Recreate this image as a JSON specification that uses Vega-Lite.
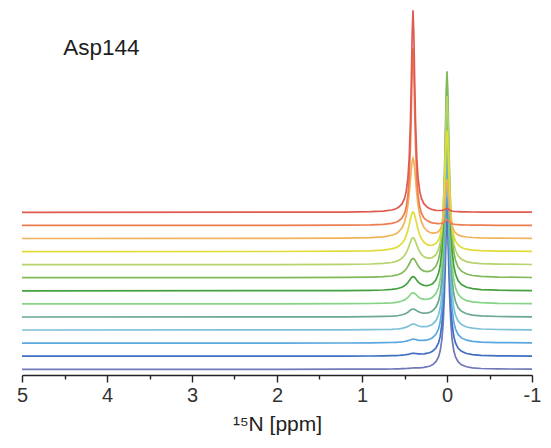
{
"$schema": "https://vega.github.io/schema/vega-lite/v6.json",
"width": 510, "height": 375,
"autosize": {"type": "none"},
"padding": {"left": 22, "top": 0, "right": 19, "bottom": 73},
"background": "white",
"config": {"view": {"stroke": null}},
"layer": [
{
"data": {"values": [
{"s":12,"x":5,"y":5.7},{"s":12,"x":2,"y":5.7},{"s":12,"x":1.2,"y":5.8},{"s":12,"x":0.9,"y":5.9},{"s":12,"x":0.75,"y":5.9},{"s":12,"x":0.65,"y":6.0},{"s":12,"x":0.6,"y":6.1},{"s":12,"x":0.57,"y":6.2},{"s":12,"x":0.53,"y":6.3},{"s":12,"x":0.5,"y":6.4},{"s":12,"x":0.48,"y":6.5},{"s":12,"x":0.46,"y":6.6},{"s":12,"x":0.445,"y":6.7},{"s":12,"x":0.43,"y":6.9},{"s":12,"x":0.42,"y":6.9},{"s":12,"x":0.41,"y":7.0},{"s":12,"x":0.4,"y":7.0},{"s":12,"x":0.39,"y":7.1},{"s":12,"x":0.38,"y":7.1},{"s":12,"x":0.37,"y":7.1},{"s":12,"x":0.355,"y":7.1},{"s":12,"x":0.34,"y":7.1},{"s":12,"x":0.32,"y":7.2},{"s":12,"x":0.3,"y":7.3},{"s":12,"x":0.27,"y":7.6},{"s":12,"x":0.23,"y":8.3},{"s":12,"x":0.2,"y":9.0},{"s":12,"x":0.17,"y":10.2},{"s":12,"x":0.13,"y":13.3},{"s":12,"x":0.1,"y":18.1},{"s":12,"x":0.08,"y":24.2},{"s":12,"x":0.06,"y":35.7},{"s":12,"x":0.045,"y":51.9},{"s":12,"x":0.03,"y":80.7},{"s":12,"x":0.02,"y":109.6},{"s":12,"x":0.01,"y":140.7},{"s":12,"x":0,"y":155.7},{"s":12,"x":-0.01,"y":140.7},{"s":12,"x":-0.02,"y":109.6},{"s":12,"x":-0.03,"y":80.7},{"s":12,"x":-0.045,"y":51.9},{"s":12,"x":-0.06,"y":35.7},{"s":12,"x":-0.08,"y":24.2},{"s":12,"x":-0.1,"y":18.1},{"s":12,"x":-0.13,"y":13.3},{"s":12,"x":-0.17,"y":10.2},{"s":12,"x":-0.23,"y":8.2},{"s":12,"x":-0.3,"y":7.2},{"s":12,"x":-0.4,"y":6.5},{"s":12,"x":-0.6,"y":6.1},{"s":12,"x":-1,"y":5.8},
{"s":11,"x":5,"y":18.8},{"s":11,"x":2,"y":18.8},{"s":11,"x":1.2,"y":18.9},{"s":11,"x":0.9,"y":19.0},{"s":11,"x":0.75,"y":19.1},{"s":11,"x":0.65,"y":19.3},{"s":11,"x":0.6,"y":19.4},{"s":11,"x":0.57,"y":19.5},{"s":11,"x":0.53,"y":19.8},{"s":11,"x":0.5,"y":20.0},{"s":11,"x":0.48,"y":20.3},{"s":11,"x":0.46,"y":20.6},{"s":11,"x":0.445,"y":20.9},{"s":11,"x":0.43,"y":21.3},{"s":11,"x":0.42,"y":21.5},{"s":11,"x":0.41,"y":21.6},{"s":11,"x":0.4,"y":21.7},{"s":11,"x":0.39,"y":21.7},{"s":11,"x":0.38,"y":21.6},{"s":11,"x":0.37,"y":21.5},{"s":11,"x":0.355,"y":21.4},{"s":11,"x":0.34,"y":21.2},{"s":11,"x":0.32,"y":21.1},{"s":11,"x":0.3,"y":21.0},{"s":11,"x":0.27,"y":21.2},{"s":11,"x":0.23,"y":21.8},{"s":11,"x":0.2,"y":22.5},{"s":11,"x":0.17,"y":23.8},{"s":11,"x":0.13,"y":27.0},{"s":11,"x":0.1,"y":32.1},{"s":11,"x":0.08,"y":38.6},{"s":11,"x":0.06,"y":50.9},{"s":11,"x":0.045,"y":68.1},{"s":11,"x":0.03,"y":98.9},{"s":11,"x":0.02,"y":129.6},{"s":11,"x":0.01,"y":162.9},{"s":11,"x":0,"y":178.9},{"s":11,"x":-0.01,"y":162.9},{"s":11,"x":-0.02,"y":129.6},{"s":11,"x":-0.03,"y":98.8},{"s":11,"x":-0.045,"y":68.1},{"s":11,"x":-0.06,"y":50.9},{"s":11,"x":-0.08,"y":38.6},{"s":11,"x":-0.1,"y":32.1},{"s":11,"x":-0.13,"y":26.9},{"s":11,"x":-0.17,"y":23.7},{"s":11,"x":-0.23,"y":21.5},{"s":11,"x":-0.3,"y":20.4},{"s":11,"x":-0.4,"y":19.7},{"s":11,"x":-0.6,"y":19.2},{"s":11,"x":-1,"y":18.9},
{"s":10,"x":5,"y":31.9},{"s":10,"x":2,"y":31.9},{"s":10,"x":1.2,"y":32.0},{"s":10,"x":0.9,"y":32.2},{"s":10,"x":0.75,"y":32.3},{"s":10,"x":0.65,"y":32.5},{"s":10,"x":0.6,"y":32.7},{"s":10,"x":0.57,"y":32.8},{"s":10,"x":0.53,"y":33.1},{"s":10,"x":0.5,"y":33.5},{"s":10,"x":0.48,"y":33.9},{"s":10,"x":0.46,"y":34.3},{"s":10,"x":0.445,"y":34.8},{"s":10,"x":0.43,"y":35.3},{"s":10,"x":0.42,"y":35.5},{"s":10,"x":0.41,"y":35.7},{"s":10,"x":0.4,"y":35.9},{"s":10,"x":0.39,"y":35.8},{"s":10,"x":0.38,"y":35.7},{"s":10,"x":0.37,"y":35.5},{"s":10,"x":0.355,"y":35.2},{"s":10,"x":0.34,"y":34.9},{"s":10,"x":0.32,"y":34.7},{"s":10,"x":0.3,"y":34.6},{"s":10,"x":0.27,"y":34.6},{"s":10,"x":0.23,"y":35.2},{"s":10,"x":0.2,"y":36.0},{"s":10,"x":0.17,"y":37.3},{"s":10,"x":0.13,"y":40.7},{"s":10,"x":0.1,"y":46.1},{"s":10,"x":0.08,"y":53.0},{"s":10,"x":0.06,"y":66.0},{"s":10,"x":0.045,"y":84.3},{"s":10,"x":0.03,"y":117.0},{"s":10,"x":0.02,"y":149.7},{"s":10,"x":0.01,"y":185.0},{"s":10,"x":0,"y":202.0},{"s":10,"x":-0.01,"y":185.0},{"s":10,"x":-0.02,"y":149.7},{"s":10,"x":-0.03,"y":117.0},{"s":10,"x":-0.045,"y":84.3},{"s":10,"x":-0.06,"y":66.0},{"s":10,"x":-0.08,"y":52.9},{"s":10,"x":-0.1,"y":46.0},{"s":10,"x":-0.13,"y":40.6},{"s":10,"x":-0.17,"y":37.1},{"s":10,"x":-0.23,"y":34.8},{"s":10,"x":-0.3,"y":33.6},{"s":10,"x":-0.4,"y":32.9},{"s":10,"x":-0.6,"y":32.4},{"s":10,"x":-1,"y":32.1},
{"s":9,"x":5,"y":45.0},{"s":9,"x":2,"y":45.1},{"s":9,"x":1.2,"y":45.2},{"s":9,"x":0.9,"y":45.3},{"s":9,"x":0.75,"y":45.5},{"s":9,"x":0.65,"y":45.7},{"s":9,"x":0.6,"y":46.0},{"s":9,"x":0.57,"y":46.2},{"s":9,"x":0.53,"y":46.7},{"s":9,"x":0.5,"y":47.3},{"s":9,"x":0.48,"y":47.9},{"s":9,"x":0.46,"y":48.6},{"s":9,"x":0.445,"y":49.3},{"s":9,"x":0.43,"y":50.1},{"s":9,"x":0.42,"y":50.5},{"s":9,"x":0.41,"y":50.8},{"s":9,"x":0.4,"y":51.0},{"s":9,"x":0.39,"y":51.0},{"s":9,"x":0.38,"y":50.7},{"s":9,"x":0.37,"y":50.4},{"s":9,"x":0.355,"y":49.8},{"s":9,"x":0.34,"y":49.3},{"s":9,"x":0.32,"y":48.7},{"s":9,"x":0.3,"y":48.4},{"s":9,"x":0.27,"y":48.3},{"s":9,"x":0.23,"y":48.7},{"s":9,"x":0.2,"y":49.5},{"s":9,"x":0.17,"y":50.8},{"s":9,"x":0.13,"y":54.3},{"s":9,"x":0.1,"y":60.0},{"s":9,"x":0.08,"y":67.2},{"s":9,"x":0.06,"y":80.8},{"s":9,"x":0.045,"y":100.0},{"s":9,"x":0.03,"y":134.2},{"s":9,"x":0.02,"y":168.4},{"s":9,"x":0.01,"y":205.4},{"s":9,"x":0,"y":223.2},{"s":9,"x":-0.01,"y":205.3},{"s":9,"x":-0.02,"y":168.4},{"s":9,"x":-0.03,"y":134.1},{"s":9,"x":-0.045,"y":99.9},{"s":9,"x":-0.06,"y":80.7},{"s":9,"x":-0.08,"y":67.1},{"s":9,"x":-0.1,"y":59.8},{"s":9,"x":-0.13,"y":54.1},{"s":9,"x":-0.17,"y":50.5},{"s":9,"x":-0.23,"y":48.0},{"s":9,"x":-0.3,"y":46.8},{"s":9,"x":-0.4,"y":46.0},{"s":9,"x":-0.6,"y":45.5},{"s":9,"x":-1,"y":45.2},
{"s":8,"x":5,"y":58.0},{"s":8,"x":2,"y":58.1},{"s":8,"x":1.2,"y":58.2},{"s":8,"x":0.9,"y":58.3},{"s":8,"x":0.75,"y":58.6},{"s":8,"x":0.65,"y":58.9},{"s":8,"x":0.6,"y":59.2},{"s":8,"x":0.57,"y":59.5},{"s":8,"x":0.53,"y":60.2},{"s":8,"x":0.5,"y":61.0},{"s":8,"x":0.48,"y":61.8},{"s":8,"x":0.46,"y":62.8},{"s":8,"x":0.445,"y":63.8},{"s":8,"x":0.43,"y":64.8},{"s":8,"x":0.42,"y":65.4},{"s":8,"x":0.41,"y":65.8},{"s":8,"x":0.4,"y":66.0},{"s":8,"x":0.39,"y":66.0},{"s":8,"x":0.38,"y":65.6},{"s":8,"x":0.37,"y":65.1},{"s":8,"x":0.355,"y":64.3},{"s":8,"x":0.34,"y":63.5},{"s":8,"x":0.32,"y":62.7},{"s":8,"x":0.3,"y":62.1},{"s":8,"x":0.27,"y":61.8},{"s":8,"x":0.23,"y":62.1},{"s":8,"x":0.2,"y":62.8},{"s":8,"x":0.17,"y":64.2},{"s":8,"x":0.13,"y":67.8},{"s":8,"x":0.1,"y":73.6},{"s":8,"x":0.08,"y":81.1},{"s":8,"x":0.06,"y":95.3},{"s":8,"x":0.045,"y":115.2},{"s":8,"x":0.03,"y":150.7},{"s":8,"x":0.02,"y":186.3},{"s":8,"x":0.01,"y":224.7},{"s":8,"x":0,"y":243.2},{"s":8,"x":-0.01,"y":224.7},{"s":8,"x":-0.02,"y":186.3},{"s":8,"x":-0.03,"y":150.7},{"s":8,"x":-0.045,"y":115.1},{"s":8,"x":-0.06,"y":95.2},{"s":8,"x":-0.08,"y":81.0},{"s":8,"x":-0.1,"y":73.4},{"s":8,"x":-0.13,"y":67.5},{"s":8,"x":-0.17,"y":63.7},{"s":8,"x":-0.23,"y":61.2},{"s":8,"x":-0.3,"y":59.9},{"s":8,"x":-0.4,"y":59.1},{"s":8,"x":-0.6,"y":58.5},{"s":8,"x":-1,"y":58.2},
{"s":7,"x":5,"y":71.1},{"s":7,"x":2,"y":71.2},{"s":7,"x":1.2,"y":71.3},{"s":7,"x":0.9,"y":71.5},{"s":7,"x":0.75,"y":71.8},{"s":7,"x":0.65,"y":72.2},{"s":7,"x":0.6,"y":72.7},{"s":7,"x":0.57,"y":73.1},{"s":7,"x":0.53,"y":74.0},{"s":7,"x":0.5,"y":75.1},{"s":7,"x":0.48,"y":76.2},{"s":7,"x":0.46,"y":77.7},{"s":7,"x":0.445,"y":79.0},{"s":7,"x":0.43,"y":80.5},{"s":7,"x":0.42,"y":81.3},{"s":7,"x":0.41,"y":81.9},{"s":7,"x":0.4,"y":82.2},{"s":7,"x":0.39,"y":82.0},{"s":7,"x":0.38,"y":81.5},{"s":7,"x":0.37,"y":80.8},{"s":7,"x":0.355,"y":79.5},{"s":7,"x":0.34,"y":78.4},{"s":7,"x":0.32,"y":77.1},{"s":7,"x":0.3,"y":76.3},{"s":7,"x":0.27,"y":75.7},{"s":7,"x":0.23,"y":75.8},{"s":7,"x":0.2,"y":76.4},{"s":7,"x":0.17,"y":77.8},{"s":7,"x":0.13,"y":81.5},{"s":7,"x":0.1,"y":87.5},{"s":7,"x":0.08,"y":95.2},{"s":7,"x":0.06,"y":109.9},{"s":7,"x":0.045,"y":130.6},{"s":7,"x":0.03,"y":167.5},{"s":7,"x":0.02,"y":204.4},{"s":7,"x":0.01,"y":244.2},{"s":7,"x":0,"y":263.4},{"s":7,"x":-0.01,"y":244.2},{"s":7,"x":-0.02,"y":204.3},{"s":7,"x":-0.03,"y":167.4},{"s":7,"x":-0.045,"y":130.4},{"s":7,"x":-0.06,"y":109.7},{"s":7,"x":-0.08,"y":95.0},{"s":7,"x":-0.1,"y":87.2},{"s":7,"x":-0.13,"y":81.0},{"s":7,"x":-0.17,"y":77.1},{"s":7,"x":-0.23,"y":74.4},{"s":7,"x":-0.3,"y":73.1},{"s":7,"x":-0.4,"y":72.3},{"s":7,"x":-0.6,"y":71.6},{"s":7,"x":-1,"y":71.3},
{"s":6,"x":5,"y":84.2},{"s":6,"x":2,"y":84.3},{"s":6,"x":1.2,"y":84.4},{"s":6,"x":0.9,"y":84.7},{"s":6,"x":0.75,"y":85.0},{"s":6,"x":0.65,"y":85.6},{"s":6,"x":0.6,"y":86.1},{"s":6,"x":0.57,"y":86.7},{"s":6,"x":0.53,"y":87.8},{"s":6,"x":0.5,"y":89.2},{"s":6,"x":0.48,"y":90.6},{"s":6,"x":0.46,"y":92.5},{"s":6,"x":0.445,"y":94.3},{"s":6,"x":0.43,"y":96.1},{"s":6,"x":0.42,"y":97.2},{"s":6,"x":0.41,"y":98.0},{"s":6,"x":0.4,"y":98.3},{"s":6,"x":0.39,"y":98.1},{"s":6,"x":0.38,"y":97.5},{"s":6,"x":0.37,"y":96.5},{"s":6,"x":0.355,"y":94.8},{"s":6,"x":0.34,"y":93.2},{"s":6,"x":0.32,"y":91.6},{"s":6,"x":0.3,"y":90.5},{"s":6,"x":0.27,"y":89.6},{"s":6,"x":0.23,"y":89.4},{"s":6,"x":0.2,"y":90.0},{"s":6,"x":0.17,"y":91.3},{"s":6,"x":0.13,"y":95.1},{"s":6,"x":0.1,"y":101.4},{"s":6,"x":0.08,"y":109.5},{"s":6,"x":0.06,"y":124.7},{"s":6,"x":0.045,"y":146.2},{"s":6,"x":0.03,"y":184.7},{"s":6,"x":0.02,"y":223.1},{"s":6,"x":0.01,"y":264.6},{"s":6,"x":0,"y":284.6},{"s":6,"x":-0.01,"y":264.6},{"s":6,"x":-0.02,"y":223.0},{"s":6,"x":-0.03,"y":184.5},{"s":6,"x":-0.045,"y":146.1},{"s":6,"x":-0.06,"y":124.5},{"s":6,"x":-0.08,"y":109.1},{"s":6,"x":-0.1,"y":101.0},{"s":6,"x":-0.13,"y":94.5},{"s":6,"x":-0.17,"y":90.4},{"s":6,"x":-0.23,"y":87.7},{"s":6,"x":-0.3,"y":86.3},{"s":6,"x":-0.4,"y":85.4},{"s":6,"x":-0.6,"y":84.8},{"s":6,"x":-1,"y":84.4},
{"s":5,"x":5,"y":97.3},{"s":5,"x":2,"y":97.4},{"s":5,"x":1.2,"y":97.6},{"s":5,"x":0.9,"y":97.9},{"s":5,"x":0.75,"y":98.3},{"s":5,"x":0.65,"y":99.0},{"s":5,"x":0.6,"y":99.8},{"s":5,"x":0.57,"y":100.5},{"s":5,"x":0.53,"y":102.0},{"s":5,"x":0.5,"y":104.0},{"s":5,"x":0.48,"y":105.9},{"s":5,"x":0.46,"y":108.6},{"s":5,"x":0.445,"y":111.0},{"s":5,"x":0.43,"y":113.5},{"s":5,"x":0.42,"y":115.0},{"s":5,"x":0.41,"y":116.0},{"s":5,"x":0.4,"y":116.5},{"s":5,"x":0.39,"y":116.2},{"s":5,"x":0.38,"y":115.2},{"s":5,"x":0.37,"y":113.9},{"s":5,"x":0.355,"y":111.5},{"s":5,"x":0.34,"y":109.3},{"s":5,"x":0.32,"y":106.9},{"s":5,"x":0.3,"y":105.3},{"s":5,"x":0.27,"y":103.9},{"s":5,"x":0.23,"y":103.4},{"s":5,"x":0.2,"y":103.8},{"s":5,"x":0.17,"y":105.1},{"s":5,"x":0.13,"y":108.9},{"s":5,"x":0.1,"y":115.3},{"s":5,"x":0.08,"y":123.5},{"s":5,"x":0.06,"y":139.2},{"s":5,"x":0.045,"y":161.4},{"s":5,"x":0.03,"y":200.9},{"s":5,"x":0.02,"y":240.5},{"s":5,"x":0.01,"y":283.3},{"s":5,"x":0,"y":303.8},{"s":5,"x":-0.01,"y":283.2},{"s":5,"x":-0.02,"y":240.4},{"s":5,"x":-0.03,"y":200.8},{"s":5,"x":-0.045,"y":161.1},{"s":5,"x":-0.06,"y":138.9},{"s":5,"x":-0.08,"y":123.1},{"s":5,"x":-0.1,"y":114.7},{"s":5,"x":-0.13,"y":108.0},{"s":5,"x":-0.17,"y":103.8},{"s":5,"x":-0.23,"y":101.0},{"s":5,"x":-0.3,"y":99.5},{"s":5,"x":-0.4,"y":98.6},{"s":5,"x":-0.6,"y":97.9},{"s":5,"x":-1,"y":97.5},
{"s":4,"x":5,"y":110.3},{"s":4,"x":2,"y":110.4},{"s":4,"x":1.2,"y":110.6},{"s":4,"x":0.9,"y":111.0},{"s":4,"x":0.75,"y":111.6},{"s":4,"x":0.65,"y":112.5},{"s":4,"x":0.6,"y":113.6},{"s":4,"x":0.57,"y":114.5},{"s":4,"x":0.53,"y":116.7},{"s":4,"x":0.5,"y":119.5},{"s":4,"x":0.48,"y":122.2},{"s":4,"x":0.46,"y":126.0},{"s":4,"x":0.445,"y":129.5},{"s":4,"x":0.43,"y":133.1},{"s":4,"x":0.42,"y":135.2},{"s":4,"x":0.41,"y":136.7},{"s":4,"x":0.4,"y":137.2},{"s":4,"x":0.39,"y":136.8},{"s":4,"x":0.38,"y":135.4},{"s":4,"x":0.37,"y":133.4},{"s":4,"x":0.355,"y":129.9},{"s":4,"x":0.34,"y":126.6},{"s":4,"x":0.32,"y":123.0},{"s":4,"x":0.3,"y":120.5},{"s":4,"x":0.27,"y":118.2},{"s":4,"x":0.23,"y":116.9},{"s":4,"x":0.2,"y":116.8},{"s":4,"x":0.17,"y":117.6},{"s":4,"x":0.13,"y":120.4},{"s":4,"x":0.1,"y":125.5},{"s":4,"x":0.08,"y":132.2},{"s":4,"x":0.06,"y":145.0},{"s":4,"x":0.045,"y":163.0},{"s":4,"x":0.03,"y":195.2},{"s":4,"x":0.02,"y":227.5},{"s":4,"x":0.01,"y":262.3},{"s":4,"x":0,"y":279.1},{"s":4,"x":-0.01,"y":262.2},{"s":4,"x":-0.02,"y":227.3},{"s":4,"x":-0.03,"y":195.0},{"s":4,"x":-0.045,"y":162.6},{"s":4,"x":-0.06,"y":144.5},{"s":4,"x":-0.08,"y":131.6},{"s":4,"x":-0.1,"y":124.7},{"s":4,"x":-0.13,"y":119.2},{"s":4,"x":-0.17,"y":115.8},{"s":4,"x":-0.23,"y":113.4},{"s":4,"x":-0.3,"y":112.2},{"s":4,"x":-0.4,"y":111.4},{"s":4,"x":-0.6,"y":110.9},{"s":4,"x":-1,"y":110.5},
{"s":3,"x":5,"y":123.4},{"s":3,"x":2,"y":123.5},{"s":3,"x":1.2,"y":123.8},{"s":3,"x":0.9,"y":124.1},{"s":3,"x":0.75,"y":124.9},{"s":3,"x":0.65,"y":126.2},{"s":3,"x":0.6,"y":127.4},{"s":3,"x":0.57,"y":128.7},{"s":3,"x":0.53,"y":131.6},{"s":3,"x":0.5,"y":135.4},{"s":3,"x":0.48,"y":139.4},{"s":3,"x":0.46,"y":145.0},{"s":3,"x":0.445,"y":150.3},{"s":3,"x":0.43,"y":156.2},{"s":3,"x":0.42,"y":159.6},{"s":3,"x":0.41,"y":162.1},{"s":3,"x":0.4,"y":163.1},{"s":3,"x":0.39,"y":162.2},{"s":3,"x":0.38,"y":159.7},{"s":3,"x":0.37,"y":156.4},{"s":3,"x":0.355,"y":150.7},{"s":3,"x":0.34,"y":145.4},{"s":3,"x":0.32,"y":139.9},{"s":3,"x":0.3,"y":136.2},{"s":3,"x":0.27,"y":132.7},{"s":3,"x":0.23,"y":130.4},{"s":3,"x":0.2,"y":129.7},{"s":3,"x":0.17,"y":129.9},{"s":3,"x":0.13,"y":131.6},{"s":3,"x":0.1,"y":135.0},{"s":3,"x":0.08,"y":139.7},{"s":3,"x":0.06,"y":148.8},{"s":3,"x":0.045,"y":161.6},{"s":3,"x":0.03,"y":184.6},{"s":3,"x":0.02,"y":207.6},{"s":3,"x":0.01,"y":232.5},{"s":3,"x":0,"y":244.4},{"s":3,"x":-0.01,"y":232.4},{"s":3,"x":-0.02,"y":207.4},{"s":3,"x":-0.03,"y":184.3},{"s":3,"x":-0.045,"y":161.1},{"s":3,"x":-0.06,"y":148.2},{"s":3,"x":-0.08,"y":138.9},{"s":3,"x":-0.1,"y":133.9},{"s":3,"x":-0.13,"y":130.1},{"s":3,"x":-0.17,"y":127.5},{"s":3,"x":-0.23,"y":125.8},{"s":3,"x":-0.3,"y":124.9},{"s":3,"x":-0.4,"y":124.4},{"s":3,"x":-0.6,"y":123.9},{"s":3,"x":-1,"y":123.6},
{"s":2,"x":5,"y":136.5},{"s":2,"x":2,"y":136.6},{"s":2,"x":1.2,"y":136.8},{"s":2,"x":0.9,"y":137.4},{"s":2,"x":0.75,"y":138.2},{"s":2,"x":0.65,"y":139.7},{"s":2,"x":0.6,"y":141.3},{"s":2,"x":0.57,"y":143.1},{"s":2,"x":0.53,"y":147.0},{"s":2,"x":0.5,"y":152.7},{"s":2,"x":0.48,"y":159.2},{"s":2,"x":0.46,"y":169.5},{"s":2,"x":0.445,"y":181.0},{"s":2,"x":0.43,"y":195.6},{"s":2,"x":0.42,"y":205.8},{"s":2,"x":0.41,"y":213.7},{"s":2,"x":0.4,"y":216.8},{"s":2,"x":0.39,"y":213.7},{"s":2,"x":0.38,"y":205.9},{"s":2,"x":0.37,"y":195.7},{"s":2,"x":0.355,"y":181.1},{"s":2,"x":0.34,"y":169.7},{"s":2,"x":0.32,"y":159.5},{"s":2,"x":0.3,"y":153.1},{"s":2,"x":0.27,"y":147.5},{"s":2,"x":0.23,"y":143.9},{"s":2,"x":0.2,"y":142.5},{"s":2,"x":0.17,"y":141.9},{"s":2,"x":0.13,"y":142.1},{"s":2,"x":0.1,"y":143.5},{"s":2,"x":0.08,"y":145.6},{"s":2,"x":0.06,"y":149.8},{"s":2,"x":0.045,"y":155.9},{"s":2,"x":0.03,"y":166.9},{"s":2,"x":0.02,"y":178.1},{"s":2,"x":0.01,"y":190.0},{"s":2,"x":0,"y":195.7},{"s":2,"x":-0.01,"y":189.9},{"s":2,"x":-0.02,"y":177.8},{"s":2,"x":-0.03,"y":166.6},{"s":2,"x":-0.045,"y":155.3},{"s":2,"x":-0.06,"y":149.0},{"s":2,"x":-0.08,"y":144.6},{"s":2,"x":-0.1,"y":142.1},{"s":2,"x":-0.13,"y":140.1},{"s":2,"x":-0.17,"y":138.9},{"s":2,"x":-0.23,"y":138.0},{"s":2,"x":-0.3,"y":137.5},{"s":2,"x":-0.4,"y":137.1},{"s":2,"x":-0.6,"y":136.8},{"s":2,"x":-1,"y":136.6},
{"s":1,"x":5,"y":149.6},{"s":1,"x":2,"y":149.7},{"s":1,"x":1.2,"y":149.8},{"s":1,"x":0.9,"y":150.1},{"s":1,"x":0.75,"y":150.6},{"s":1,"x":0.65,"y":151.6},{"s":1,"x":0.6,"y":152.8},{"s":1,"x":0.57,"y":154.0},{"s":1,"x":0.53,"y":156.9},{"s":1,"x":0.5,"y":161.6},{"s":1,"x":0.48,"y":167.7},{"s":1,"x":0.46,"y":179.4},{"s":1,"x":0.445,"y":196.5},{"s":1,"x":0.43,"y":228.8},{"s":1,"x":0.42,"y":263.9},{"s":1,"x":0.41,"y":305.2},{"s":1,"x":0.4,"y":326.6},{"s":1,"x":0.39,"y":305.2},{"s":1,"x":0.38,"y":263.9},{"s":1,"x":0.37,"y":228.8},{"s":1,"x":0.355,"y":196.5},{"s":1,"x":0.34,"y":179.4},{"s":1,"x":0.32,"y":167.7},{"s":1,"x":0.3,"y":161.6},{"s":1,"x":0.27,"y":156.9},{"s":1,"x":0.23,"y":154.2},{"s":1,"x":0.2,"y":152.9},{"s":1,"x":0.17,"y":152.1},{"s":1,"x":0.13,"y":151.7},{"s":1,"x":0.1,"y":151.4},{"s":1,"x":0.08,"y":151.5},{"s":1,"x":0.06,"y":151.7},{"s":1,"x":0.045,"y":152.1},{"s":1,"x":0.03,"y":153.0},{"s":1,"x":0.02,"y":154.0},{"s":1,"x":0.01,"y":154.9},{"s":1,"x":0,"y":155.4},{"s":1,"x":-0.01,"y":154.9},{"s":1,"x":-0.02,"y":153.8},{"s":1,"x":-0.03,"y":152.8},{"s":1,"x":-0.045,"y":151.8},{"s":1,"x":-0.06,"y":151.2},{"s":1,"x":-0.08,"y":150.8},{"s":1,"x":-0.1,"y":150.5},{"s":1,"x":-0.13,"y":150.4},{"s":1,"x":-0.17,"y":150.2},{"s":1,"x":-0.23,"y":150.0},{"s":1,"x":-0.3,"y":149.9},{"s":1,"x":-0.4,"y":149.8},{"s":1,"x":-0.6,"y":149.7},{"s":1,"x":-1,"y":149.7},
{"s":0,"x":5,"y":162.7},{"s":0,"x":2,"y":162.8},{"s":0,"x":1.2,"y":162.9},{"s":0,"x":0.9,"y":163.3},{"s":0,"x":0.75,"y":163.9},{"s":0,"x":0.65,"y":165.0},{"s":0,"x":0.6,"y":166.3},{"s":0,"x":0.57,"y":167.7},{"s":0,"x":0.53,"y":171.1},{"s":0,"x":0.5,"y":176.4},{"s":0,"x":0.48,"y":183.4},{"s":0,"x":0.46,"y":196.7},{"s":0,"x":0.445,"y":216.2},{"s":0,"x":0.43,"y":253.1},{"s":0,"x":0.42,"y":293.1},{"s":0,"x":0.41,"y":340.3},{"s":0,"x":0.4,"y":364.7},{"s":0,"x":0.39,"y":340.3},{"s":0,"x":0.38,"y":293.1},{"s":0,"x":0.37,"y":253.1},{"s":0,"x":0.355,"y":216.2},{"s":0,"x":0.34,"y":196.7},{"s":0,"x":0.32,"y":183.4},{"s":0,"x":0.3,"y":176.4},{"s":0,"x":0.27,"y":171.1},{"s":0,"x":0.23,"y":167.7},{"s":0,"x":0.2,"y":166.3},{"s":0,"x":0.17,"y":165.4},{"s":0,"x":0.13,"y":164.7},{"s":0,"x":0.1,"y":164.5},{"s":0,"x":0.08,"y":164.5},{"s":0,"x":0.06,"y":164.6},{"s":0,"x":0.045,"y":164.8},{"s":0,"x":0.03,"y":165.3},{"s":0,"x":0.02,"y":165.8},{"s":0,"x":0.01,"y":166.4},{"s":0,"x":0,"y":166.6},{"s":0,"x":-0.01,"y":166.2},{"s":0,"x":-0.02,"y":165.6},{"s":0,"x":-0.03,"y":165.0},{"s":0,"x":-0.045,"y":164.3},{"s":0,"x":-0.06,"y":164.0},{"s":0,"x":-0.08,"y":163.7},{"s":0,"x":-0.1,"y":163.5},{"s":0,"x":-0.13,"y":163.4},{"s":0,"x":-0.17,"y":163.1},{"s":0,"x":-0.23,"y":163.1},{"s":0,"x":-0.3,"y":163.0},{"s":0,"x":-0.4,"y":162.9},{"s":0,"x":-0.6,"y":162.8},{"s":0,"x":-1,"y":162.8}
]},
"mark": {"type": "line", "strokeWidth": 1.7, "interpolate": "linear", "clip": true},
"encoding": {
"x": {"field": "x", "type": "quantitative",
"scale": {"domain": [-1, 5], "reverse": true, "nice": false, "zero": false},
"axis": {"values": [5, 4.5, 4, 3.5, 3, 2.5, 2, 1.5, 1, 0.5, 0, -0.5, -1],
"labelExpr": "datum.value % 1 ? '' : toString(datum.value)",
"tickSize": {"condition": {"test": "datum.value % 1 !== 0", "value": 4}, "value": 7},
"title": "¹⁵N [ppm]", "grid": false, "labelFlush": false, "labelOverlap": false,
"domainColor": "#222222", "domainWidth": 1.6, "tickColor": "#222222", "tickWidth": 1.4,
"labelFont": "Liberation Sans", "labelFontSize": 20, "labelColor": "#333333", "labelPadding": 3,
"titleFont": "Liberation Sans", "titleFontSize": 21, "titleFontWeight": "normal", "titleColor": "#222222", "titlePadding": 8}},
"y": {"field": "y", "type": "quantitative", "scale": {"domain": [0, 375], "nice": false, "zero": true}, "axis": null},
"color": {"field": "s", "type": "nominal", "legend": null,
"scale": {"domain": [0,1,2,3,4,5,6,7,8,9,10,11,12],
"range": ["#e05a50","#ec7d4e","#f0b25a","#e2dc3a","#b5d46a","#7fb95a","#46a040","#86d486","#6aa890","#7ec0d8","#5aa8e0","#3f6fc0","#6f78b8"]}}
}
},
{
"data": {"values": [{"label": "Asp144"}]},
"mark": {"type": "text", "align": "left", "baseline": "alphabetic", "font": "Liberation Sans", "fontSize": 22.5, "color": "#1e1e1e"},
"encoding": {
"x": {"datum": 4.515, "type": "quantitative"},
"y": {"datum": 320, "type": "quantitative"},
"text": {"field": "label", "type": "nominal"}
}
}
]
}
